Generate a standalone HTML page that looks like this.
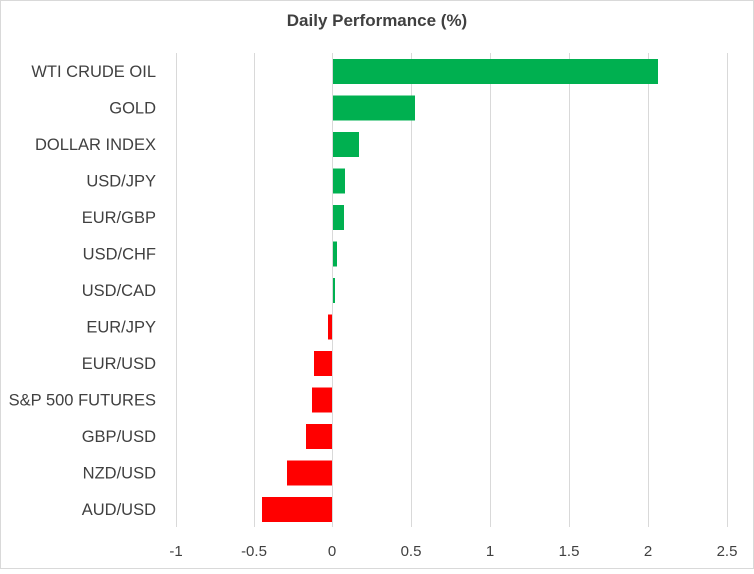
<!DOCTYPE html>
<html><head><style>
body{margin:0;background:#fff;}
svg text{font-family:"Liberation Sans",sans-serif;fill:#404040;}
</style></head><body>
<svg width="754" height="569" xmlns="http://www.w3.org/2000/svg">
<rect x="0.5" y="0.5" width="753" height="568" fill="#fff" stroke="#d9d9d9"/>
<text x="377" y="26" text-anchor="middle" font-size="17" font-weight="bold">Daily Performance (%)</text>
<g stroke="#d9d9d9" stroke-width="1">
<line x1="176.5" y1="53" x2="176.5" y2="527"/>
<line x1="254.5" y1="53" x2="254.5" y2="527"/>
<line x1="411.5" y1="53" x2="411.5" y2="527"/>
<line x1="490.5" y1="53" x2="490.5" y2="527"/>
<line x1="569.5" y1="53" x2="569.5" y2="527"/>
<line x1="648.5" y1="53" x2="648.5" y2="527"/>
<line x1="727.5" y1="53" x2="727.5" y2="527"/>
<line x1="332.5" y1="53" x2="332.5" y2="527"/>
</g>
<g fill="#00b050">
<rect x="333" y="59" width="325" height="25"/>
<rect x="333" y="95.5" width="82" height="25"/>
<rect x="333" y="132" width="26" height="25"/>
<rect x="333" y="168.5" width="12" height="25"/>
<rect x="333" y="205" width="11" height="25"/>
<rect x="333" y="241.5" width="4" height="25"/>
<rect x="333" y="278" width="2" height="25"/>
</g>
<g fill="#ff0000">
<rect x="328" y="314.5" width="4" height="25"/>
<rect x="314" y="351" width="18" height="25"/>
<rect x="312" y="387.5" width="20" height="25"/>
<rect x="306" y="424" width="26" height="25"/>
<rect x="287" y="460.5" width="45" height="25"/>
<rect x="262" y="497" width="70" height="25"/>
</g>
<g font-size="16.5" text-anchor="end">
<text x="156" y="77">WTI CRUDE OIL</text>
<text x="156" y="113.5">GOLD</text>
<text x="156" y="150">DOLLAR INDEX</text>
<text x="156" y="186.5">USD/JPY</text>
<text x="156" y="223">EUR/GBP</text>
<text x="156" y="259.5">USD/CHF</text>
<text x="156" y="296">USD/CAD</text>
<text x="156" y="332.5">EUR/JPY</text>
<text x="156" y="369">EUR/USD</text>
<text x="156" y="405.5">S&amp;P 500 FUTURES</text>
<text x="156" y="442">GBP/USD</text>
<text x="156" y="478.5">NZD/USD</text>
<text x="156" y="515">AUD/USD</text>
</g>
<g font-size="15" text-anchor="middle">
<text x="176" y="556">-1</text>
<text x="254" y="556">-0.5</text>
<text x="332" y="556">0</text>
<text x="411" y="556">0.5</text>
<text x="490" y="556">1</text>
<text x="569" y="556">1.5</text>
<text x="648" y="556">2</text>
<text x="727" y="556">2.5</text>
</g>
</svg>
</body></html>
